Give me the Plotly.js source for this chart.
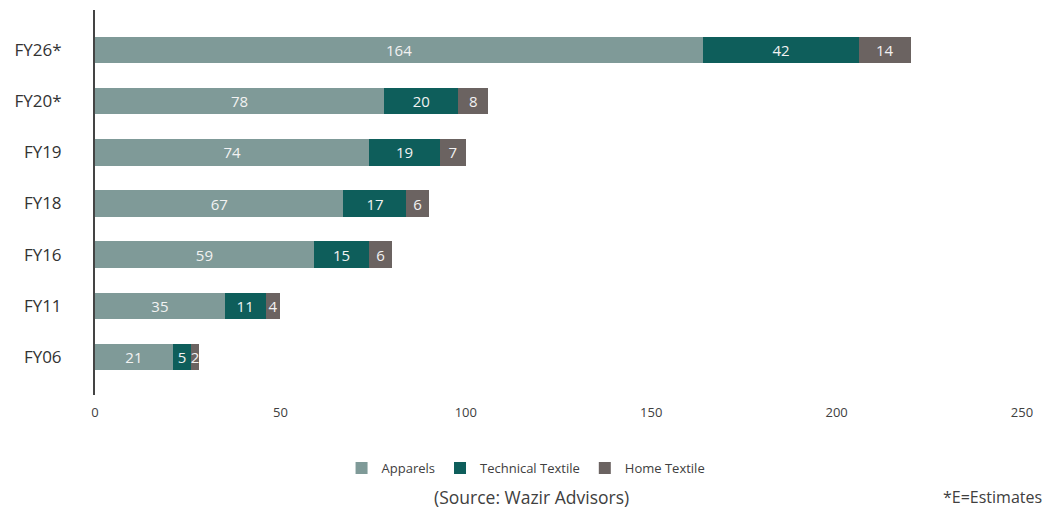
<!DOCTYPE html>
<html>
<head>
<meta charset="utf-8">
<script src="https://cdn.plot.ly/plotly-3.0.1.min.js"></script>
<style>html,body{margin:0;padding:0;background:#fff;}#chart{width:1045px;height:508px;}</style>
</head>
<body>
<div id="chart"></div>
<script>
const categories = ["FY06", "FY11", "FY16", "FY18", "FY19", "FY20*", "FY26*"];
const apparels = [21, 35, 59, 67, 74, 78, 164];
const technicalTextile = [5, 11, 15, 17, 19, 20, 42];
const homeTextile = [2, 4, 6, 6, 7, 8, 14];
const xTicks = [0, 50, 100, 150, 200, 250];

function series(name, vals, color) {
  return {
    type: "bar", orientation: "h", name: name,
    y: categories, x: vals,
    text: vals.map(String), textposition: "inside", insidetextanchor: "middle",
    constraintext: "none",
    textfont: {family: "Open Sans, sans-serif", size: 15, color: "#f2f2f2"},
    marker: {color: color}, hoverinfo: "x+name"
  };
}
const data = [
  series("Apparels", apparels, "#7f9a98"),
  series("Technical Textile", technicalTextile, "#0e5e5b"),
  series("Home Textile", homeTextile, "#6b6361")
];
const layout = {
  width: 1045, height: 508,
  margin: {l: 95, r: 23, t: 10, b: 113},
  barmode: "stack", bargap: 0.48,
  paper_bgcolor: "#fff", plot_bgcolor: "#fff",
  font: {family: "Open Sans, sans-serif", color: "#404040"},
  showlegend: true,
  legend: {orientation: "h", x: 0.465, xanchor: "center", y: -0.19, yanchor: "middle",
           font: {size: 13, color: "#404040"}, traceorder: "normal", itemwidth: 30},
  xaxis: {range: [0, 250], tickvals: xTicks, showgrid: false, zeroline: false, showline: false,
          ticks: "", ticklabelstandoff: 8, tickfont: {size: 13, color: "#404040"}, fixedrange: true},
  yaxis: {type: "category", categoryorder: "array", categoryarray: categories,
          range: [-0.74, 6.78], showgrid: false, zeroline: false, showline: true,
          linecolor: "#444", linewidth: 2, ticks: "", ticklabelstandoff: 28,
          tickfont: {size: 17, color: "#333"}, fixedrange: true},
  annotations: [
    {text: "(Source: Wazir Advisors)", xref: "paper", yref: "paper", x: 0.471, y: -0.265,
     xanchor: "center", yanchor: "middle", showarrow: false, font: {size: 17.5, color: "#404040"}},
    {text: "*E=Estimates", xref: "paper", yref: "paper", x: 0.913, y: -0.265,
     xanchor: "left", yanchor: "middle", showarrow: false, font: {size: 16, color: "#404040"}}
  ]
};
Plotly.newPlot("chart", data, layout, {displayModeBar: false, staticPlot: true});
</script>
</body>
</html>
